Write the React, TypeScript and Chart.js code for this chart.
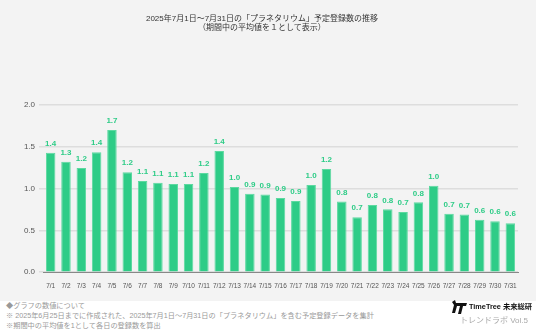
import React, { useEffect, useRef } from "react";
import { Chart, registerables } from "chart.js";

Chart.register(...registerables);

const categories = [
  "7/1", "7/2", "7/3", "7/4", "7/5", "7/6", "7/7", "7/8", "7/9", "7/10",
  "7/11", "7/12", "7/13", "7/14", "7/15", "7/16", "7/17", "7/18", "7/19", "7/20",
  "7/21", "7/22", "7/23", "7/24", "7/25", "7/26", "7/27", "7/28", "7/29", "7/30", "7/31",
];
const values = [
  1.43, 1.32, 1.245, 1.435, 1.70, 1.196, 1.09, 1.07, 1.055, 1.055,
  1.188, 1.45, 1.02, 0.937, 0.928, 0.889, 0.852, 1.042, 1.233, 0.845,
  0.658, 0.804, 0.752, 0.719, 0.836, 1.034, 0.699, 0.691, 0.626, 0.61, 0.585,
];
const yTicks = [0, 0.5, 1.0, 1.5, 2.0];
const titleLines = [
  "2025年7月1日〜7月31日の「プラネタリウム」予定登録数の推移",
  "（期間中の平均値を１として表示）",
];
const footerLines = [
  "◆グラフの数値について",
  "※ 2025年6月25日までに作成された、2025年7月1日〜7月31日の「プラネタリウム」を含む予定登録データを集計",
  "※期間中の平均値を1として各日の登録数を算出",
];

const FONT = "'Liberation Sans', 'Noto Sans CJK JP', sans-serif";
const GREEN = "#2ecc87";

const valueLabels = {
  id: "valueLabels",
  afterDatasetsDraw(chart: any) {
    const ctx = chart.ctx;
    const meta = chart.getDatasetMeta(0);
    ctx.save();
    ctx.font = `bold 8px ${FONT}`;
    ctx.fillStyle = GREEN;
    ctx.textAlign = "center";
    ctx.textBaseline = "bottom";
    meta.data.forEach((bar: any, i: number) => {
      const v = chart.data.datasets[0].data[i] as number;
      ctx.fillText(v.toFixed(1), bar.x, bar.y - 5);
    });
    ctx.restore();
  },
};

export default function App() {
  const ref = useRef<HTMLCanvasElement>(null);
  useEffect(() => {
    if (!ref.current) return;
    const chart = new Chart(ref.current, {
      type: "bar",
      data: {
        labels: categories,
        datasets: [
          {
            data: values,
            backgroundColor: GREEN,
            borderColor: "#5cd9a0",
            borderWidth: 1,
            barPercentage: 0.62,
            categoryPercentage: 1,
          },
        ],
      },
      options: {
        animation: false,
        responsive: false,
        layout: { padding: { top: 105, left: 0, right: 18, bottom: 9 } },
        plugins: {
          legend: { display: false },
          tooltip: { enabled: false },
          title: { display: false },
        },
        scales: {
          x: {
            grid: { display: false },
            border: { display: true, color: "#888", width: 1 },
            ticks: {
              font: { size: 6.5, family: FONT },
              color: "#555",
              maxRotation: 0,
              autoSkip: false,
              padding: 2,
            },
          },
          y: {
            min: 0,
            max: 2,
            afterBuildTicks: (s: any) => {
              s.ticks = yTicks.map((v) => ({ value: v }));
            },
            afterFit: (s: any) => {
              s.width = 43;
            },
            border: { display: false },
            grid: { color: "#dddddd", lineWidth: 1.5, tickLength: 4 },
            ticks: {
              font: { size: 8, family: FONT },
              color: "#555",
              padding: 4,
              callback: (v: any) => Number(v).toFixed(1),
            },
          },
        },
      },
      plugins: [valueLabels],
    });
    return () => chart.destroy();
  }, []);

  return (
    <div
      style={{
        position: "fixed",
        left: 0,
        top: 0,
        width: 536,
        height: 336,
        background: "#ffffff",
        fontFamily: FONT,
        overflow: "hidden",
      }}
    >
      <div
        style={{
          position: "absolute",
          left: 0,
          top: 0,
          width: 536,
          height: 301,
          background: "#f3f3f3",
        }}
      >
        <canvas ref={ref} width={536} height={301} style={{ position: "absolute", left: 0, top: 0 }} />
        <div
          style={{
            position: "absolute",
            left: 0,
            width: 524,
            top: 15,
            textAlign: "center",
            fontSize: 8,
            lineHeight: "8.5px",
            color: "#333",
          }}
        >
          {titleLines.map((t, i) => (
            <div key={i}>{t}</div>
          ))}
        </div>
      </div>
      <div
        style={{
          position: "absolute",
          left: 6,
          top: 301,
          fontSize: 7.2,
          lineHeight: "10px",
          color: "#999",
          whiteSpace: "nowrap",
        }}
      >
        {footerLines.map((t, i) => (
          <div key={i}>{t}</div>
        ))}
      </div>
      <svg
        style={{ position: "absolute", left: 451, top: 300 }}
        width={17}
        height={14}
        viewBox="0 0 17 14"
      >
        <polygon points="1,2 4,0 5,3 16,3 15,6 12,6 10,14 7,14 9,6 6,6 4,13 1,13 3,5" fill="#111" />
      </svg>
      <div
        style={{
          position: "absolute",
          left: 469,
          top: 302,
          fontSize: 7.3,
          fontWeight: "bold",
          color: "#111",
          whiteSpace: "nowrap",
          lineHeight: "10px",
        }}
      >
        TimeTree 未来総研
      </div>
      <div
        style={{
          position: "absolute",
          left: 460,
          top: 315,
          fontSize: 8,
          color: "#aaa",
          whiteSpace: "nowrap",
          lineHeight: "11px",
        }}
      >
        トレンドラボ Vol.5
      </div>
    </div>
  );
}
